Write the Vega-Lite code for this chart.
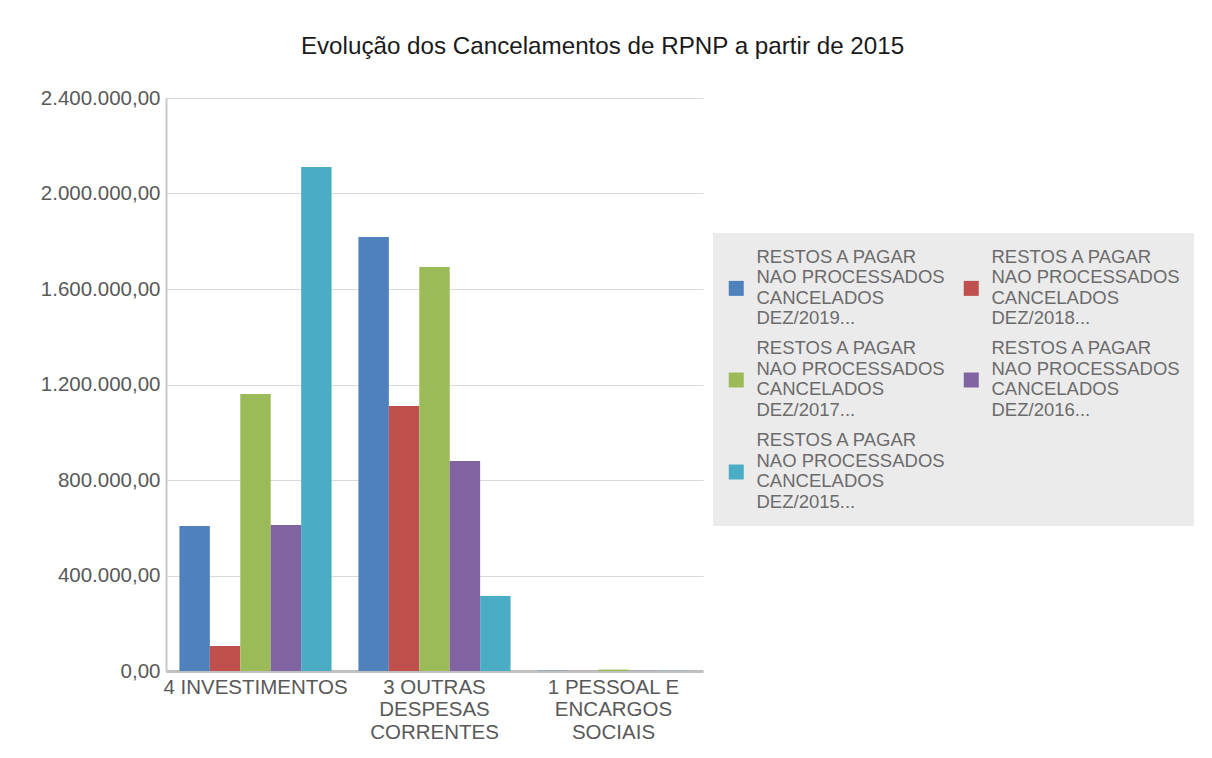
{
  "$schema": "https://vega.github.io/schema/vega-lite/v6.json",
  "autosize": {"type": "none"},
  "padding": {"left": 166, "top": 98, "right": 509, "bottom": 87},
  "width": 537,
  "height": 573,
  "background": "white",
  "title": {
    "text": "Evolução dos Cancelamentos de RPNP a partir de 2015",
    "font": "Liberation Sans",
    "fontSize": 24.2,
    "fontWeight": "normal",
    "color": "#1a1a1a",
    "anchor": "middle",
    "dx": 168,
    "baseline": "alphabetic",
    "offset": 10
  },
  "data": {
    "values": [
      {"categoria": "4 INVESTIMENTOS", "ano": "2019", "valor": 607000},
      {"categoria": "4 INVESTIMENTOS", "ano": "2018", "valor": 105000},
      {"categoria": "4 INVESTIMENTOS", "ano": "2017", "valor": 1160000},
      {"categoria": "4 INVESTIMENTOS", "ano": "2016", "valor": 611000},
      {"categoria": "4 INVESTIMENTOS", "ano": "2015", "valor": 2111000},
      {"categoria": "3 OUTRAS|DESPESAS|CORRENTES", "ano": "2019", "valor": 1818000},
      {"categoria": "3 OUTRAS|DESPESAS|CORRENTES", "ano": "2018", "valor": 1110000},
      {"categoria": "3 OUTRAS|DESPESAS|CORRENTES", "ano": "2017", "valor": 1692000},
      {"categoria": "3 OUTRAS|DESPESAS|CORRENTES", "ano": "2016", "valor": 880000},
      {"categoria": "3 OUTRAS|DESPESAS|CORRENTES", "ano": "2015", "valor": 314000},
      {"categoria": "1 PESSOAL E|ENCARGOS|SOCIAIS", "ano": "2019", "valor": 1500},
      {"categoria": "1 PESSOAL E|ENCARGOS|SOCIAIS", "ano": "2018", "valor": 500},
      {"categoria": "1 PESSOAL E|ENCARGOS|SOCIAIS", "ano": "2017", "valor": 6000},
      {"categoria": "1 PESSOAL E|ENCARGOS|SOCIAIS", "ano": "2016", "valor": 1000},
      {"categoria": "1 PESSOAL E|ENCARGOS|SOCIAIS", "ano": "2015", "valor": 1000}
    ]
  },
  "mark": {"type": "bar"},
  "encoding": {
    "x": {
      "field": "categoria",
      "type": "nominal",
      "sort": null,
      "scale": {"paddingInner": 0.15, "paddingOuter": 0.075},
      "axis": {
        "title": null,
        "labelAngle": 0,
        "labelExpr": "split(datum.label, '|')",
        "labelFont": "Liberation Sans",
        "labelFontSize": 20.5,
        "labelColor": "#595959",
        "labelPadding": 6,
        "labelLimit": 0,
        "ticks": false,
        "domainColor": "#C0C0C0",
        "domainWidth": 3
      }
    },
    "xOffset": {
      "field": "ano",
      "type": "nominal",
      "sort": ["2019", "2018", "2017", "2016", "2015"],
      "scale": {"paddingInner": 0, "paddingOuter": 0}
    },
    "y": {
      "field": "valor",
      "type": "quantitative",
      "scale": {"domain": [0, 2400000], "nice": false},
      "axis": {
        "title": null,
        "values": [0, 400000, 800000, 1200000, 1600000, 2000000, 2400000],
        "format": ",.2f",
        "labelFont": "Liberation Sans",
        "labelFontSize": 20.5,
        "labelColor": "#595959",
        "labelPadding": 6,
        "ticks": false,
        "domainColor": "#C8C8C8",
        "domainWidth": 2,
        "grid": true,
        "gridColor": "#D9D9D9",
        "gridWidth": 1
      }
    },
    "color": {
      "field": "ano",
      "type": "nominal",
      "sort": ["2019", "2018", "2017", "2016", "2015"],
      "scale": {
        "domain": ["2019", "2018", "2017", "2016", "2015"],
        "range": ["#4F81BD", "#C0504D", "#9BBB59", "#8064A2", "#4BACC6"]
      },
      "legend": {
        "title": null,
        "orient": "none",
        "legendX": 547,
        "legendY": 135,
        "columns": 2,
        "direction": "horizontal",
        "columnPadding": 17,
        "rowPadding": 11,
        "fillColor": "#EBEBEB",
        "padding": 14,
        "symbolType": "square",
        "symbolSize": 225,
        "symbolStrokeWidth": 0,
        "symbolOpacity": 1,
        "labelOffset": 11,
        "labelFont": "Liberation Sans",
        "labelFontSize": 18.5,
        "labelColor": "#6b6b6b",
        "labelLimit": 0,
        "labelExpr": "['RESTOS A PAGAR', 'NAO PROCESSADOS', 'CANCELADOS', 'DEZ/' + datum.label + '...']",
        "encode": {
          "symbols": {"update": {"y": {"value": 41}}}
        }
      }
    }
  },
  "config": {
    "locale": {
      "number": {
        "decimal": ",",
        "thousands": ".",
        "grouping": [3],
        "currency": ["R$", ""]
      }
    },
    "view": {"stroke": null}
  }
}
